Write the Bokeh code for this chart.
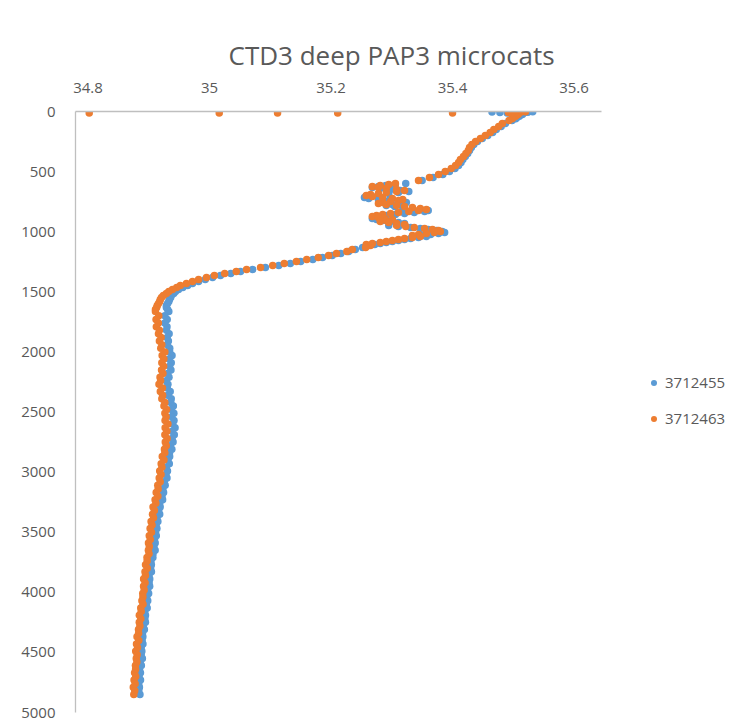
from bokeh.plotting import figure
from bokeh.models import Range1d, FixedTicker, Legend, LegendItem
from bokeh.embed import file_html
from bokeh.resources import INLINE

# ---------------- data ----------------
depth = [
    2, 4, 6, 8, 10, 13, 16, 20, 25, 30, 40, 50, 60, 75, 100, 125, 150, 175, 200, 225,
    250, 275, 300, 325, 350, 375, 400, 425, 450, 475, 500, 525, 550, 575,
    599, 607, 616, 624, 632, 641, 649, 657, 666, 674, 682, 690, 699, 707, 715, 724,
    732, 740, 749, 757, 765, 774, 782, 790, 799, 807, 815, 824, 832, 840, 849, 857,
    865, 874, 882, 890, 898, 907, 915, 923, 932, 940, 948, 957, 965, 973, 982, 990,
    998, 1007, 1015, 1023, 1032, 1040, 1048, 1057, 1065, 1073, 1082, 1090, 1098, 1106, 1115,
    1131, 1148, 1165, 1181, 1198, 1215, 1231, 1248, 1265, 1281, 1298, 1314, 1331, 1348,
    1364, 1381, 1398, 1414, 1431, 1448, 1464, 1481, 1498, 1514, 1531, 1547, 1564, 1581,
    1597, 1614, 1631, 1648, 1664,
    1700, 1730, 1760, 1790, 1820, 1850, 1880, 1910, 1940, 1970,
    2000, 2030, 2060, 2090, 2120, 2150, 2180, 2210, 2240, 2270,
    2300, 2330, 2360, 2390, 2420, 2450, 2480, 2510, 2540, 2570,
    2600, 2630, 2660, 2690, 2720, 2750, 2780, 2810, 2840, 2870,
    2900, 2930, 2960, 2990, 3020, 3050, 3080, 3110, 3140, 3170,
    3200, 3230, 3260, 3290, 3320, 3350, 3380, 3410, 3440, 3470,
    3500, 3530, 3560, 3590, 3620, 3650, 3680, 3710, 3740, 3770,
    3800, 3830, 3860, 3890, 3920, 3950, 3980, 4010, 4040, 4070,
    4100, 4130, 4160, 4190, 4220, 4250, 4280, 4310, 4340, 4370,
    4400, 4430, 4460, 4490, 4520, 4550, 4580, 4610, 4640, 4670,
    4700, 4730, 4760, 4790, 4820, 4850,
]

sal_3712455 = [
    35.532, 35.465, 35.524, 35.478, 35.518, 35.490, 35.512, 35.505, 35.515, 35.508,
    35.510, 35.506, 35.504, 35.498, 35.487, 35.480, 35.472, 35.466, 35.458, 35.449,
    35.441, 35.435, 35.431, 35.428, 35.425, 35.421, 35.417, 35.414, 35.410, 35.404,
    35.395, 35.384, 35.368, 35.350,
    35.323, 35.306, 35.290, 35.278, 35.268, 35.281, 35.298, 35.314, 35.328, 35.311,
    35.295, 35.278, 35.265, 35.258, 35.255, 35.262, 35.278, 35.295, 35.311, 35.324,
    35.314, 35.301, 35.291, 35.305, 35.318, 35.334, 35.347, 35.360, 35.354, 35.337,
    35.321, 35.306, 35.291, 35.281, 35.275, 35.268, 35.275, 35.285, 35.298, 35.311,
    35.321, 35.308, 35.295, 35.311, 35.331, 35.347, 35.360, 35.374, 35.383, 35.387,
    35.377, 35.364, 35.351, 35.357, 35.344, 35.331, 35.321, 35.311, 35.301, 35.291,
    35.281, 35.272, 35.262,
    35.252, 35.240, 35.229, 35.216, 35.202, 35.186, 35.170, 35.150, 35.133, 35.114,
    35.092, 35.071, 35.051, 35.035, 35.018, 35.005, 34.993, 34.982, 34.972, 34.964,
    34.956, 34.949, 34.944, 34.941, 34.937, 34.936, 34.934, 34.933, 34.931, 34.929,
    34.929, 34.931, 34.933,
    34.9265, 34.9303, 34.9265, 34.9300, 34.9293, 34.9335, 34.9303, 34.9323, 34.9308, 34.9345,
    34.9345, 34.9383, 34.9335, 34.9370, 34.9343, 34.9365, 34.9313, 34.9333, 34.9288, 34.9315,
    34.9305, 34.9353, 34.9315, 34.9370, 34.9363, 34.9405, 34.9373, 34.9413, 34.9378, 34.9415,
    34.9395, 34.9433, 34.9385, 34.9420, 34.9384, 34.9400, 34.9356, 34.9380, 34.9342, 34.9344,
    34.9318, 34.9338, 34.9290, 34.9308, 34.9284, 34.9300, 34.9256, 34.9270, 34.9232, 34.9244,
    34.9218, 34.9228, 34.9180, 34.9188, 34.9164, 34.9180, 34.9136, 34.9150, 34.9122, 34.9134,
    34.9111, 34.9124, 34.9095, 34.9106, 34.9086, 34.9105, 34.9070, 34.9068, 34.9037, 34.9043,
    34.9031, 34.9044, 34.9005, 34.9016, 34.9006, 34.9015, 34.8980, 34.8998, 34.8967, 34.8983,
    34.8961, 34.8974, 34.8935, 34.8946, 34.8936, 34.8945, 34.8910, 34.8928, 34.8897, 34.8903,
    34.8891, 34.8904, 34.8875, 34.8886, 34.8876, 34.8895, 34.8860, 34.8878, 34.8847, 34.8863,
    34.8841, 34.8864, 34.8835, 34.8846, 34.8836, 34.8855,
]

sal_3712463 = [
    35.520, 35.505, 35.512, 35.492, 35.508, 35.500, 35.505, 35.500, 35.508, 35.502,
    35.504, 35.500, 35.498, 35.493, 35.482, 35.476, 35.468, 35.462, 35.454, 35.446,
    35.438, 35.432, 35.428, 35.426, 35.422, 35.418, 35.413, 35.410, 35.405, 35.398,
    35.388, 35.377, 35.362, 35.344,
    35.306, 35.295, 35.281, 35.268, 35.278, 35.291, 35.308, 35.321, 35.308, 35.291,
    35.278, 35.265, 35.258, 35.268, 35.285, 35.301, 35.318, 35.311, 35.298, 35.285,
    35.278, 35.291, 35.308, 35.321, 35.334, 35.347, 35.357, 35.344, 35.328, 35.311,
    35.298, 35.285, 35.275, 35.268, 35.278, 35.288, 35.301, 35.291, 35.281, 35.295,
    35.308, 35.321, 35.308, 35.323, 35.337, 35.354, 35.367, 35.377, 35.380, 35.370,
    35.357, 35.344, 35.334, 35.347, 35.334, 35.321, 35.311, 35.301, 35.291, 35.281,
    35.268, 35.258, 35.265,
    35.257, 35.235, 35.226, 35.209, 35.196, 35.179, 35.160, 35.143, 35.123, 35.104,
    35.084, 35.061, 35.044, 35.025, 35.008, 34.995, 34.982, 34.972, 34.962, 34.952,
    34.946, 34.939, 34.933, 34.929, 34.924, 34.921, 34.919, 34.918, 34.916, 34.914,
    34.913, 34.911, 34.911,
    34.9165, 34.9120, 34.9158, 34.9125, 34.9175, 34.9160, 34.9203, 34.9175, 34.9215, 34.9198,
    34.9265, 34.9220, 34.9248, 34.9215, 34.9245, 34.9210, 34.9233, 34.9185, 34.9195, 34.9168,
    34.9225, 34.9190, 34.9228, 34.9215, 34.9265, 34.9250, 34.9293, 34.9265, 34.9285, 34.9268,
    34.9315, 34.9270, 34.9298, 34.9265, 34.9302, 34.9272, 34.9288, 34.9258, 34.9264, 34.9222,
    34.9250, 34.9204, 34.9216, 34.9180, 34.9202, 34.9172, 34.9188, 34.9148, 34.9154, 34.9122,
    34.9150, 34.9104, 34.9116, 34.9070, 34.9092, 34.9062, 34.9078, 34.9038, 34.9054, 34.9022,
    34.9045, 34.9008, 34.9025, 34.8995, 34.9009, 34.8994, 34.9004, 34.8971, 34.8973, 34.8947,
    34.8975, 34.8938, 34.8945, 34.8915, 34.8939, 34.8914, 34.8924, 34.8901, 34.8903, 34.8887,
    34.8905, 34.8868, 34.8875, 34.8845, 34.8869, 34.8844, 34.8854, 34.8831, 34.8833, 34.8807,
    34.8835, 34.8798, 34.8815, 34.8785, 34.8809, 34.8794, 34.8804, 34.8781, 34.8783, 34.8767,
    34.8785, 34.8758, 34.8775, 34.8745, 34.8769, 34.8754,
]

# stray near-surface readings of 3712463
extra_depth_3712463 = [12, 12, 12, 12, 12, 12]
extra_sal_3712463 = [34.802, 35.016, 35.112, 35.211, 35.400, 35.497]

series_names = ["3712455", "3712463"]
series_colors = ["#5B9BD5", "#ED7D31"]

x_ticks = [34.8, 35.0, 35.2, 35.4, 35.6]
x_tick_labels = ["34.8", "35", "35.2", "35.4", "35.6"]
y_ticks = [0, 500, 1000, 1500, 2000, 2500, 3000, 3500, 4000, 4500, 5000]
x_axis_min, x_axis_max = 34.7794, 35.646

assert len(depth) == len(sal_3712455) == len(sal_3712463)

# ---------------- figure ----------------
FONT = "Open Sans"
GREY = "#595959"

# frame extends to the right edge so the legend can sit inside it;
# the visible x axis line is limited to the axis bounds.
p = figure(
    width=733, height=722,
    x_range=Range1d(x_axis_min, 35.8625), y_range=Range1d(5000, 0),
    x_axis_location="above",
    output_backend="svg", toolbar_location=None,
    min_border_left=75, min_border_right=0, min_border_top=111, min_border_bottom=10,
)
p.outline_line_color = None
p.xgrid.visible = False
p.ygrid.visible = False

p.title.text = "CTD3 deep PAP3 microcats"
p.title.align = "left"
p.title.offset = 153
p.title.text_font = FONT
p.title.text_font_size = "26px"
p.title.text_font_style = "normal"
p.title.text_color = GREY
p.title.standoff = 14

for ax in (p.xaxis[0], p.yaxis[0]):
    ax.axis_line_color = "#BFBFBF"
    ax.axis_line_width = 1.3
    ax.major_tick_line_color = None
    ax.minor_tick_line_color = None
    ax.major_label_text_font = FONT
    ax.major_label_text_font_size = "15px"
    ax.major_label_text_color = GREY

p.xaxis[0].ticker = FixedTicker(ticks=x_ticks)
p.xaxis[0].bounds = (x_axis_min, x_axis_max)
p.xaxis[0].major_label_overrides = dict(zip(x_ticks, x_tick_labels))
p.xaxis[0].major_label_standoff = 13
p.yaxis[0].ticker = FixedTicker(ticks=y_ticks)
p.yaxis[0].major_label_standoff = 14

r1 = p.scatter(sal_3712455, depth, size=7.5, fill_color=series_colors[0], line_color=None)
r2 = p.scatter(sal_3712463 + extra_sal_3712463, depth + extra_depth_3712463,
               size=7.5, fill_color=series_colors[1], line_color=None)

legend = Legend(
    items=[LegendItem(label=series_names[0], renderers=[r1]),
           LegendItem(label=series_names[1], renderers=[r2])],
    location=(571, 284),
    border_line_color=None, background_fill_alpha=0,
    label_text_font=FONT, label_text_font_size="15px", label_text_color=GREY,
    glyph_width=15, glyph_height=15, label_height=20, spacing=16,
    label_standoff=4, padding=10, margin=0,
)
p.add_layout(legend, "center")

open("out.html", "w").write(file_html(p, INLINE))
